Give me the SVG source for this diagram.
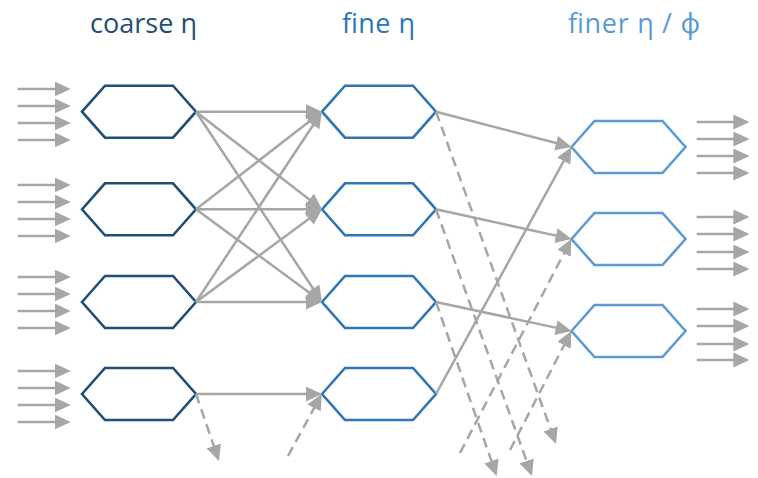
<svg xmlns="http://www.w3.org/2000/svg" width="758" height="478" viewBox="0 0 758 478">
  <defs>
    <marker id="arrow" markerUnits="userSpaceOnUse" viewBox="0 0 16 15" markerWidth="16" markerHeight="15" refX="13" refY="7.5" orient="auto">
      <path d="M0,0 L16,7.5 L0,15 Z" fill="#a6a6a6"/>
    </marker>
    <polygon id="hex" points="-57,0 -34,-26 34,-26 57,0 34,26 -34,26"/>
  </defs>
  <style>
    .title { font-family: "Open Sans", "Noto Sans", "DejaVu Sans", sans-serif; font-size: 27px; }
    .hex { fill: none; stroke-width: 2.6; stroke-linejoin: miter; }
    .coarse { stroke: #1f4e79; }
    .fine { stroke: #2e75b6; }
    .finer { stroke: #5b9bd5; }
    .link { fill: none; stroke: #a6a6a6; stroke-width: 2.5; marker-end: url(#arrow); }
    .dash { stroke-dasharray: 10 6; }
  </style>
  <rect width="758" height="478" fill="#ffffff"/>

  <!-- column headings -->
  <text class="title" x="90" y="33" fill="#1f4e79" textLength="107" lengthAdjust="spacing">coarse η</text>
  <text class="title" x="342" y="33" fill="#2e75b6" textLength="73" lengthAdjust="spacing">fine η</text>
  <text class="title" x="568" y="33" fill="#5b9bd5" textLength="132" lengthAdjust="spacing">finer η / ϕ</text>

  <!-- coarse column -->
  <g id="coarse-1"><use href="#hex" class="hex coarse" x="139" y="111.7"/></g>
  <g id="coarse-2"><use href="#hex" class="hex coarse" x="139" y="209.3"/></g>
  <g id="coarse-3"><use href="#hex" class="hex coarse" x="139" y="302"/></g>
  <g id="coarse-4"><use href="#hex" class="hex coarse" x="139" y="394"/></g>

  <!-- fine column -->
  <g id="fine-1"><use href="#hex" class="hex fine" x="379" y="111.7"/></g>
  <g id="fine-2"><use href="#hex" class="hex fine" x="379" y="209.3"/></g>
  <g id="fine-3"><use href="#hex" class="hex fine" x="379" y="302"/></g>
  <g id="fine-4"><use href="#hex" class="hex fine" x="379" y="394"/></g>

  <!-- finer column -->
  <g id="finer-1"><use href="#hex" class="hex finer" x="628.5" y="147"/></g>
  <g id="finer-2"><use href="#hex" class="hex finer" x="628.5" y="239"/></g>
  <g id="finer-3"><use href="#hex" class="hex finer" x="628.5" y="331"/></g>

  <g id="connectors">
    <!-- incoming arrows -->
    <g id="inputs">
      <line class="link" x1="17.7" y1="89" x2="67.7" y2="89"/>
      <line class="link" x1="17.7" y1="106" x2="67.7" y2="106"/>
      <line class="link" x1="17.7" y1="123" x2="67.7" y2="123"/>
      <line class="link" x1="17.7" y1="140" x2="67.7" y2="140"/>
      <line class="link" x1="17.7" y1="185" x2="67.7" y2="185"/>
      <line class="link" x1="17.7" y1="202" x2="67.7" y2="202"/>
      <line class="link" x1="17.7" y1="219" x2="67.7" y2="219"/>
      <line class="link" x1="17.7" y1="236" x2="67.7" y2="236"/>
      <line class="link" x1="17.7" y1="277" x2="67.7" y2="277"/>
      <line class="link" x1="17.7" y1="294" x2="67.7" y2="294"/>
      <line class="link" x1="17.7" y1="311" x2="67.7" y2="311"/>
      <line class="link" x1="17.7" y1="328" x2="67.7" y2="328"/>
      <line class="link" x1="17.7" y1="371" x2="67.7" y2="371"/>
      <line class="link" x1="17.7" y1="388" x2="67.7" y2="388"/>
      <line class="link" x1="17.7" y1="405" x2="67.7" y2="405"/>
      <line class="link" x1="17.7" y1="422" x2="67.7" y2="422"/>
    </g>

    <!-- coarse to fine -->
    <line class="link" x1="196" y1="111.7" x2="319" y2="111.7"/>
    <line class="link" x1="196" y1="111.7" x2="319.6" y2="207.5"/>
    <line class="link" x1="196" y1="111.7" x2="320.3" y2="299.5"/>
    <line class="link" x1="196" y1="209.3" x2="319.6" y2="113.5"/>
    <line class="link" x1="196" y1="209.3" x2="319" y2="209.3"/>
    <line class="link" x1="196" y1="209.3" x2="319.6" y2="300.2"/>
    <line class="link" x1="196" y1="302" x2="320.3" y2="114.2"/>
    <line class="link" x1="196" y1="302" x2="319.6" y2="211.1"/>
    <line class="link" x1="196" y1="302" x2="319" y2="302"/>
    <line class="link" x1="196" y1="394" x2="319" y2="394"/>
    <line class="link dash" x1="196" y1="394" x2="218" y2="458.2"/>
    <line class="link dash" x1="288" y1="456" x2="320.3" y2="396.6"/>

    <!-- fine to finer -->
    <line class="link" x1="436" y1="111.7" x2="568.6" y2="146.3"/>
    <line class="link" x1="436" y1="209.3" x2="568.6" y2="238.4"/>
    <line class="link" x1="436" y1="302" x2="568.6" y2="330.4"/>
    <line class="link" x1="436" y1="394" x2="570" y2="149.6"/>
    <line class="link dash" x1="436" y1="111.7" x2="555" y2="441.2"/>
    <line class="link dash" x1="436" y1="209.3" x2="531" y2="473.2"/>
    <line class="link dash" x1="436" y1="302" x2="495.7" y2="473.2"/>
    <line class="link dash" x1="460" y1="453" x2="570" y2="241.7"/>
    <line class="link dash" x1="510" y1="450" x2="570" y2="333.7"/>

    <!-- outgoing arrows -->
    <g id="outputs">
      <line class="link" x1="696.7" y1="122" x2="746.3" y2="122"/>
      <line class="link" x1="696.7" y1="139" x2="746.3" y2="139"/>
      <line class="link" x1="696.7" y1="156" x2="746.3" y2="156"/>
      <line class="link" x1="696.7" y1="173" x2="746.3" y2="173"/>
      <line class="link" x1="696.7" y1="217" x2="746.3" y2="217"/>
      <line class="link" x1="696.7" y1="234" x2="746.3" y2="234"/>
      <line class="link" x1="696.7" y1="252" x2="746.3" y2="252"/>
      <line class="link" x1="696.7" y1="269" x2="746.3" y2="269"/>
      <line class="link" x1="696.7" y1="309" x2="746.3" y2="309"/>
      <line class="link" x1="696.7" y1="326" x2="746.3" y2="326"/>
      <line class="link" x1="696.7" y1="344" x2="746.3" y2="344"/>
      <line class="link" x1="696.7" y1="360" x2="746.3" y2="360"/>
    </g>
  </g>
</svg>
